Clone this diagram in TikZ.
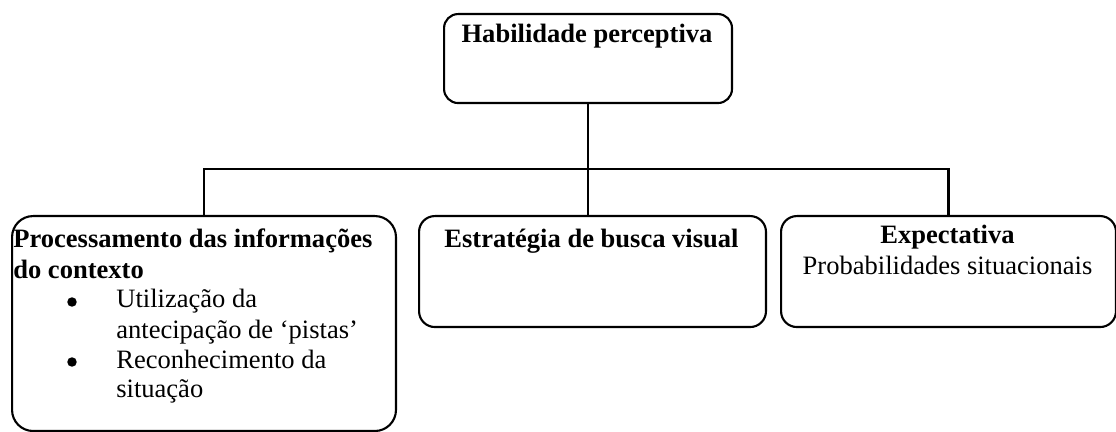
\documentclass[tikz,border=0pt]{standalone}
\usepackage{fontspec}
\setmainfont{Liberation Serif}
\usetikzlibrary{positioning,calc}

\begin{document}
\begin{tikzpicture}[x=0.02cm, y=-0.02cm,
	tbox/.style={draw, line width=1.2pt, inner sep=0pt, anchor=north west},
	txt/.style={inner sep=0pt, anchor=base west, font=\fontsize{15.1}{17.4}\selectfont},
	ctxt/.style={txt, anchor=base},
	dot/.style={circle, fill, inner sep=0pt, minimum size=0.19cm}]

	\useasboundingbox (0,0) rectangle (1116,432);

	% Top
	\node[tbox, rounded corners=8pt, minimum width=5.76cm, minimum height=1.78cm] (top) at (443,13) {};
	\node[ctxt] (toptitle) at (587,43) {\textbf{Habilidade perceptiva}};

	% Left
	\node[tbox, rounded corners=12pt, minimum width=7.68cm, minimum height=4.30cm] (left) at (11,215) {};
	\node[txt] (lefttitle) at (13,248) {\textbf{Processamento das informações}};
	\node[txt] (lefttitleb) at (13,278) {\textbf{do contexto}};
	\node[dot] (bulleta) at (72,302) {};
	\node[txt] (itema) at (116,308) {Utilização da};
	\node[txt] (itemb) at (116,338) {antecipação de ‘pistas’};
	\node[dot] (bulletb) at (72,362) {};
	\node[txt] (itemc) at (116,368) {Reconhecimento da};
	\node[txt] (itemd) at (116,398) {situação};

	% Middle
	\node[tbox, rounded corners=9pt, minimum width=6.94cm, minimum height=2.22cm] (mid) at (418,215) {};
	\node[ctxt] (midtitle) at (591.5,248) {\textbf{Estratégia de busca visual}};

	% Right
	\node[tbox, rounded corners=9pt, minimum width=6.70cm, minimum height=2.22cm] (right) at (780,215) {};
	\node[ctxt] (righttitle) at (947.5,244) {\textbf{Expectativa}};
	\node[ctxt] (righttext) at (947.5,275) {Probabilidades situacionais};

	% Connectors
	\coordinate (bus) at (587,169);
	\draw[line width=1.2pt] (top.south) -- (top.south |- mid.north);
	\draw[line width=1.2pt] (left.north) |- (bus) -| (right.north);
\end{tikzpicture}
\end{document}
